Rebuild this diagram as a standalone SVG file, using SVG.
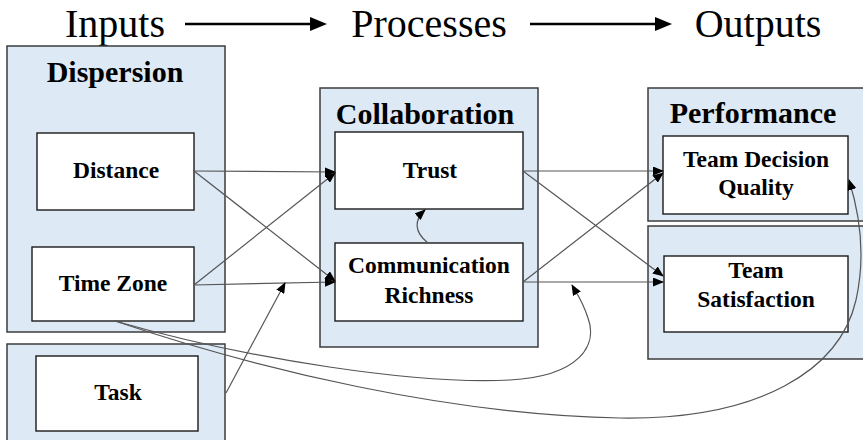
<svg xmlns="http://www.w3.org/2000/svg" width="863" height="440" viewBox="0 0 863 440">
<style>
.outer{fill:#dde9f4;stroke:#3c3c3c;stroke-width:1.5}
.inner{fill:#ffffff;stroke:#1a1a1a;stroke-width:1.4}
.head{font-family:"Liberation Serif","Times New Roman",serif;font-size:40px;fill:#000;text-anchor:middle}
.title{font-family:"Liberation Serif","Times New Roman",serif;font-weight:bold;font-size:30px;fill:#000;text-anchor:middle}
.lbl{font-family:"Liberation Serif","Times New Roman",serif;font-weight:bold;font-size:23.5px;fill:#000;text-anchor:middle}
.conn{fill:none;stroke:#555;stroke-width:1.2;marker-end:url(#ah)}
.big{fill:none;stroke:#000;stroke-width:2.5}
</style>
<defs>
<marker id="ah" markerUnits="userSpaceOnUse" markerWidth="11" markerHeight="9" refX="10" refY="4.5" orient="auto">
<path d="M0,0 L11,4.5 L0,9 Z" fill="#000"/>
</marker>
</defs>
<g id="header">
<text class="head" x="115" y="37">Inputs</text>
<text class="head" x="429" y="37">Processes</text>
<text class="head" x="758" y="37">Outputs</text>
<line class="big" x1="185" y1="24" x2="312" y2="24"/>
<polygon points="310,17 327,24 310,31" fill="#000"/>
<line class="big" x1="530" y1="24" x2="657" y2="24"/>
<polygon points="655,17 672,24 655,31" fill="#000"/>
</g>
<g id="dispersion">
<rect class="outer" x="7" y="46" width="218" height="286"/>
<text class="title" x="115" y="82">Dispersion</text>
</g>
<g id="task-group">
<rect class="outer" x="7" y="344" width="218" height="110"/>
</g>
<g id="collaboration">
<rect class="outer" x="320" y="88" width="218" height="259"/>
<text class="title" x="425" y="124">Collaboration</text>
</g>
<g id="performance">
<rect class="outer" x="648" y="88" width="230" height="133"/>
<text class="title" x="753" y="123">Performance</text>
</g>
<g id="performance-lower">
<rect class="outer" x="648" y="226" width="230" height="133"/>
</g>
<g id="distance">
<rect class="inner" x="37" y="133" width="157" height="77"/>
<text class="lbl" x="116" y="178">Distance</text>
</g>
<g id="timezone">
<rect class="inner" x="32" y="247" width="162" height="74"/>
<text class="lbl" x="113" y="291">Time Zone</text>
</g>
<g id="task">
<rect class="inner" x="36" y="356" width="162" height="75"/>
<text class="lbl" x="118" y="400">Task</text>
</g>
<g id="trust">
<rect class="inner" x="335" y="132" width="188" height="77"/>
<text class="lbl" x="430" y="178">Trust</text>
</g>
<g id="communication">
<rect class="inner" x="335" y="243" width="188" height="78"/>
<text class="lbl" x="429" y="273">Communication</text>
<text class="lbl" x="429" y="303">Richness</text>
</g>
<g id="decision">
<rect class="inner" x="663" y="136" width="185" height="78"/>
<text class="lbl" x="756" y="167">Team Decision</text>
<text class="lbl" x="756" y="195">Quality</text>
</g>
<g id="satisfaction">
<rect class="inner" x="664" y="256" width="184" height="76"/>
<text class="lbl" x="756" y="278">Team</text>
<text class="lbl" x="756" y="307">Satisfaction</text>
</g>
<g id="connectors">
<path class="conn" d="M194,171 L335,172"/>
<path class="conn" d="M194,171 L335,281"/>
<path class="conn" d="M194,285 L335,173"/>
<path class="conn" d="M194,285 L335,282"/>
<path class="conn" d="M226,393 L285,283"/>
<path class="conn" d="M428,243 C414,232 414,220 425,210"/>
<path class="conn" d="M523,171 L663,171"/>
<path class="conn" d="M523,171 L663,276"/>
<path class="conn" d="M523,282 L663,173"/>
<path class="conn" d="M523,282 L663,282"/>
<path class="conn" d="M115,321 C250,360 420,385 510,380 C580,376 598,345 588,318 C583,302 576,292 572,285"/>
<path class="conn" d="M115,321 C260,370 450,415 620,418 C760,420 840,370 856,300 C866,255 860,215 849,180"/>
</g>
</svg>
